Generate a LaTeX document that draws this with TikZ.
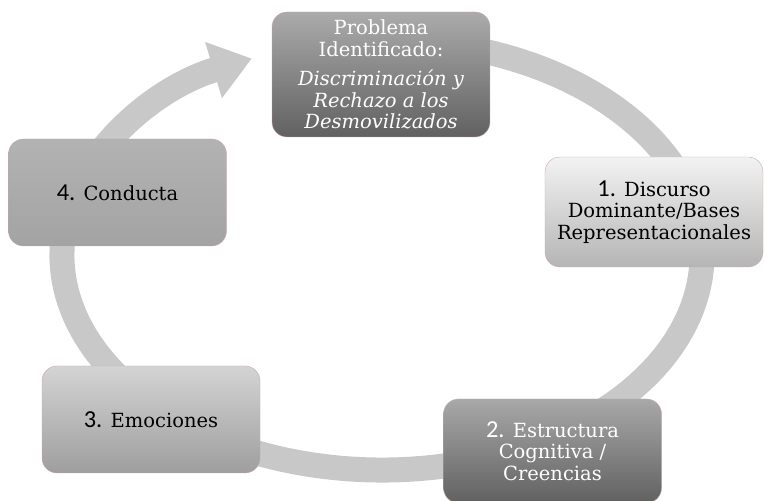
\documentclass[tikz,border=0pt]{standalone}
\usepackage{fontspec}
\setmainfont{DejaVu Serif}
\newfontfamily\numfont{Carlito}[Scale=1.25]
\usetikzlibrary{arrows.meta}

\definecolor{ringgray}{HTML}{C8C8C8}
\definecolor{rimpink}{HTML}{C9A9A6}

\begin{document}
\begin{tikzpicture}[x=1pt,y=1pt,
    box/.style={rounded corners=15pt,minimum width=218pt,align=center,
        draw=rimpink,line width=0.4pt,font=\fontsize{19.5}{21.5}\selectfont},
    darkbox/.style={box,top color=#1,bottom color=black!62,text=white},
    lightbox/.style={box,top color=#1,bottom color=black!29,text=black},
    ring/.style={ringgray,line width=25pt,-{Triangle[length=40pt,width=56pt]}}]
    \useasboundingbox (0,0) rectangle (764,501);
    % cycle
    \coordinate (c) at (382,246);
    \draw[ring] (c) ++(78:320 and 215)
        arc[start angle=78,end angle=-246,x radius=320,y radius=215];
    % boxes
    \node[darkbox=black!33,minimum height=125pt] (prob) at (381,426.5)
        {Problema\\Identificado:\\[8pt]
         \itshape Discriminación y\\\itshape Rechazo a los\\\itshape Desmovilizados};
    \node[lightbox=black!5,minimum height=110pt] (disc) at (654,289)
        {{\numfont 1.} Discurso\\Dominante/Bases\\Representacionales};
    \node[darkbox=black!34,minimum height=104pt] (estr) at (552.5,50)
        {{\numfont 2.} Estructura\\Cognitiva /\\Creencias};
    \node[lightbox=black!17,minimum height=107pt,bottom color=black!38] (emoc) at (151,81.5)
        {{\numfont 3.} Emociones};
    \node[lightbox=black!30,minimum height=107pt,bottom color=black!36] (cond) at (117.5,308.5)
        {{\numfont 4.} Conducta};
\end{tikzpicture}
\end{document}
